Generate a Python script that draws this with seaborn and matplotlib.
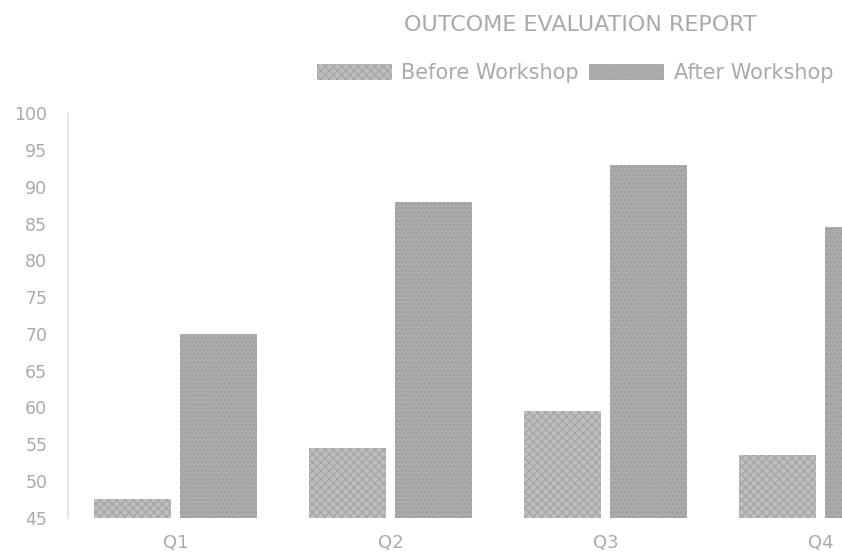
import numpy as np
import pandas as pd
import matplotlib
matplotlib.use("Agg")
import matplotlib.pyplot as plt
import seaborn as sns

# data
questions = ["Q1", "Q2", "Q3", "Q4"]
before_scores = [47.5, 54.5, 59.5, 53.5]
after_scores = [70, 88, 93, 84.5]
series_names = ["Before Workshop", "After Workshop"]
y_ticks = list(range(45, 101, 5))

df = pd.DataFrame({
    "question": questions * 2,
    "score": before_scores + after_scores,
    "phase": [series_names[0]] * len(questions) + [series_names[1]] * len(questions),
})

sns.set_theme(style="white")
plt.rcParams["font.family"] = ["DejaVu Sans"]

text_grey = "#aaaaaa"
colors = {"Before Workshop": "#bfbfbf", "After Workshop": "#ababab"}

fig = plt.figure(figsize=(8.42, 5.58), dpi=100)
ax = fig.add_axes([0.081, 0.072, 0.919, 0.725])

sns.barplot(data=df, x="question", y="score", hue="phase", palette=colors,
            width=0.8, gap=0.1, ax=ax, legend=False, saturation=1)

# texture on the bars like the scanned original
hatches = ["xxxx", "...."]
n = len(questions)
for i, bar in enumerate(ax.patches[:2 * n]):
    bar.set_hatch(hatches[i // n])
    bar.set_edgecolor("#a6a6a6" if i < n else "#9c9c9c")
    bar.set_linewidth(0)

ax.set_ylim(45, 100)
ax.set_xlim(-0.5, 3.1)
ax.set_yticks(y_ticks)
ax.set_yticklabels([str(t) for t in y_ticks], color=text_grey, fontsize=12.5)
ax.tick_params(axis="x", colors=text_grey, labelsize=13, length=0, pad=12)
ax.tick_params(axis="y", length=0, pad=15)
ax.set_xlabel("")
ax.set_ylabel("")

for side in ["top", "right", "bottom"]:
    ax.spines[side].set_visible(False)
ax.spines["left"].set_color("#e2e2e2")
ax.spines["left"].set_bounds(45, 100)

fig.text(0.689, 0.955, "OUTCOME EVALUATION REPORT", ha="center", va="center",
         color=text_grey, fontsize=16)

handles = [plt.Rectangle((0, 0), 1, 1, facecolor=colors[s], edgecolor="#a6a6a6",
                         hatch=h, linewidth=0) for s, h in zip(series_names, hatches)]
fig.legend(handles, series_names, loc="center right", bbox_to_anchor=(1.012, 0.869),
           ncol=2, frameon=False, fontsize=15, labelcolor=text_grey,
           handlelength=3.6, handleheight=0.8, handletextpad=0.45, columnspacing=0.5)

fig.savefig("out.png", dpi=100)
